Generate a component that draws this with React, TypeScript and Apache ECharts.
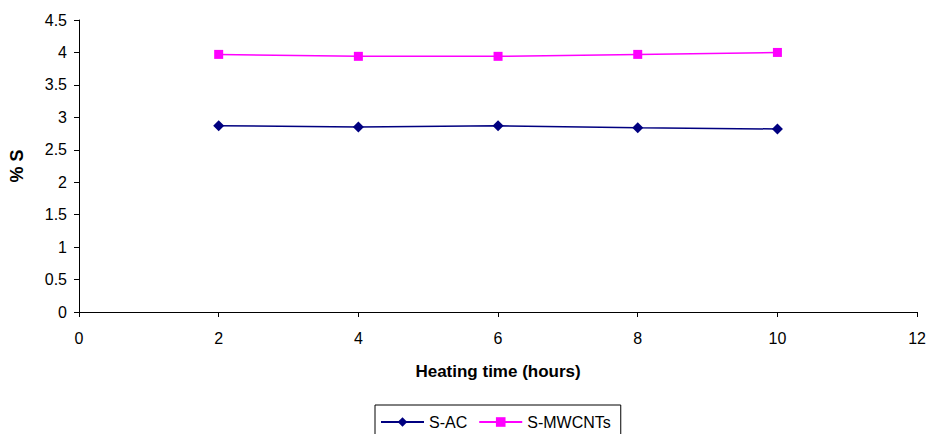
import React, { useEffect, useRef } from "react";
import * as echarts from "echarts";

const hours = [2, 4, 6, 8, 10];
const sAC = [2.87, 2.85, 2.87, 2.84, 2.82];
const sMWCNTs = [3.97, 3.94, 3.94, 3.97, 4.0];

export default function App() {
  const ref = useRef<HTMLDivElement>(null);
  useEffect(() => {
    document.body.style.margin = "0";
    const chart = echarts.init(ref.current!, null, { renderer: "svg" });
    const font = "Liberation Sans, Arial, sans-serif";
    chart.setOption({
      animation: false,
      backgroundColor: "#fff",
      textStyle: { fontFamily: font },
      grid: { left: 78, right: 11, top: 20, bottom: 122, containLabel: false },
      xAxis: {
        type: "value",
        min: 0,
        max: 12,
        interval: 2,
        name: "Heating time (hours)",
        nameLocation: "middle",
        nameGap: 51,
        nameTextStyle: { fontWeight: "bold", fontSize: 17, color: "#000", fontFamily: font },
        axisLine: { show: true, lineStyle: { color: "#000", width: 1 } },
        axisTick: { show: true, length: 5, lineStyle: { color: "#000" } },
        axisLabel: { fontSize: 16, color: "#000", margin: 18, fontFamily: font },
        splitLine: { show: false },
      },
      yAxis: {
        type: "value",
        min: 0,
        max: 4.5,
        interval: 0.5,
        name: "% S",
        nameLocation: "middle",
        nameGap: 53,
        nameRotate: 90,
        nameTextStyle: { fontWeight: "bold", fontSize: 18, color: "#000", fontFamily: font },
        axisLine: { show: true, lineStyle: { color: "#000", width: 1 } },
        axisTick: { show: true, length: 5, lineStyle: { color: "#000" } },
        axisLabel: { fontSize: 16, color: "#000", margin: 12, fontFamily: font },
        splitLine: { show: false },
      },
      legend: {
        left: 375,
        top: 405,
        itemWidth: 43,
        itemHeight: 12,
        itemGap: 11,
        padding: [9, 10, 12, 5],
        borderColor: "#000",
        borderWidth: 1,
        textStyle: { fontSize: 16, color: "#000", fontFamily: font },
        data: ["S-AC", "S-MWCNTs"],
      },
      series: [
        {
          name: "S-AC",
          type: "line",
          data: hours.map((h, i) => [h, sAC[i]]),
          symbol: "diamond",
          symbolSize: 11,
          lineStyle: { color: "#000080", width: 1.5 },
          itemStyle: { color: "#000080" },
        },
        {
          name: "S-MWCNTs",
          type: "line",
          data: hours.map((h, i) => [h, sMWCNTs[i]]),
          symbol: "rect",
          symbolSize: 9,
          lineStyle: { color: "#FF00FF", width: 1.5 },
          itemStyle: { color: "#FF00FF" },
        },
      ],
    });
    return () => chart.dispose();
  }, []);
  return <div ref={ref} style={{ width: 929, height: 434 }} />;
}
